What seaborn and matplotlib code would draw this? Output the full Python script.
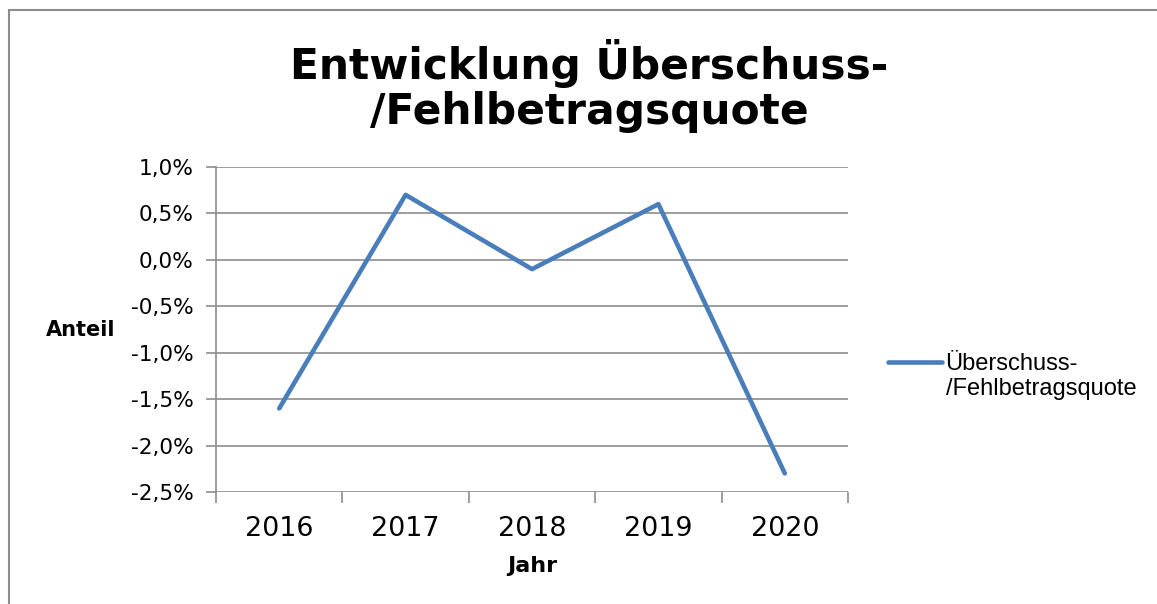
#!/usr/bin/env python3
"""Entwicklung Überschuss-/Fehlbetragsquote line chart."""

import matplotlib
matplotlib.use("Agg")
import matplotlib.pyplot as plt
from matplotlib.patches import Rectangle
from matplotlib.ticker import FixedLocator, FuncFormatter
import pandas as pd
import seaborn as sns

years = ["2016", "2017", "2018", "2019", "2020"]
quote = [-1.6, 0.7, -0.1, 0.6, -2.3]
y_ticks = [1.0, 0.5, 0.0, -0.5, -1.0, -1.5, -2.0, -2.5]
legend_lines = ["Überschuss-", "/Fehlbetragsquote"]

LINE_COLOR = "#4A7EBB"
GRID_COLOR = "#8C8C8C"

sns.set_theme(style="white")
plt.rcParams["font.family"] = ["DejaVu Sans"]
plt.rcParams["text.color"] = "black"
plt.rcParams["axes.labelcolor"] = "black"

df = pd.DataFrame({"Jahr": years, "Anteil": quote})

fig = plt.figure(figsize=(11.57, 6.04), dpi=100)
ax = fig.add_axes([216 / 1157, 1 - 492 / 604, (848 - 216) / 1157, (492 - 167) / 604])

sns.lineplot(data=df, x="Jahr", y="Anteil", ax=ax, color=LINE_COLOR,
             linewidth=3.3, sort=False, label=legend_lines[0])

ax.set_xlim(-0.5, len(years) - 0.5)
ax.set_ylim(min(y_ticks), max(y_ticks))
ax.set_yticks(y_ticks)
ax.yaxis.set_major_formatter(FuncFormatter(lambda v, _: f"{v:.1f}%".replace(".", ",")))
ax.grid(axis="y", color=GRID_COLOR, linewidth=1.2)
ax.set_axisbelow(True)

for side in ("top", "right", "bottom"):
    ax.spines[side].set_visible(False)
ax.spines["left"].set_color(GRID_COLOR)
ax.spines["left"].set_linewidth(1.2)

ax.tick_params(axis="y", which="major", direction="out", length=7, width=1.2,
               color=GRID_COLOR, labelsize=15.6, labelcolor="black", pad=9, left=True)
ax.tick_params(axis="x", which="major", length=0, labelsize=19.4, labelcolor="black", pad=17)
ax.xaxis.set_minor_locator(FixedLocator([i - 0.5 for i in range(len(years) + 1)]))
ax.tick_params(axis="x", which="minor", direction="out", length=8, width=1.2,
               color=GRID_COLOR, bottom=True)

ax.set_xlabel("Jahr", fontsize=16, fontweight="bold", labelpad=10)
ax.set_ylabel("Anteil", fontsize=15, fontweight="bold", rotation=0, labelpad=0, va="center")
ax.yaxis.set_label_coords(-0.214, 0.498)

ax.get_legend().remove()
leg_font = {"family": "Liberation Sans", "size": 17}
handle = ax.get_lines()[0]
handle.set_solid_capstyle("round")
fig.legend(handles=[handle], labels=[legend_lines[0]], loc="center left",
           bbox_to_anchor=(888 / 1157, 1 - 364 / 604), frameon=False,
           prop=leg_font, handlelength=2.3, handletextpad=0.1, borderaxespad=0,
           borderpad=0)
fig.text(946 / 1157, 1 - 389 / 604, legend_lines[1], ha="left", va="center",
         fontfamily="Liberation Sans", fontsize=17)

fig.text(589 / 1157, 1 - 86 / 604, "Entwicklung Überschuss-\n/Fehlbetragsquote",
         ha="center", va="center", fontsize=30.5, fontweight="bold", linespacing=1.1)

fig.patches.append(Rectangle((9 / 1157, -0.1), 1.2, 1.1 - 10 / 604, transform=fig.transFigure,
                             fill=False, edgecolor=GRID_COLOR, linewidth=1.5))

fig.savefig("out.png", dpi=100)
